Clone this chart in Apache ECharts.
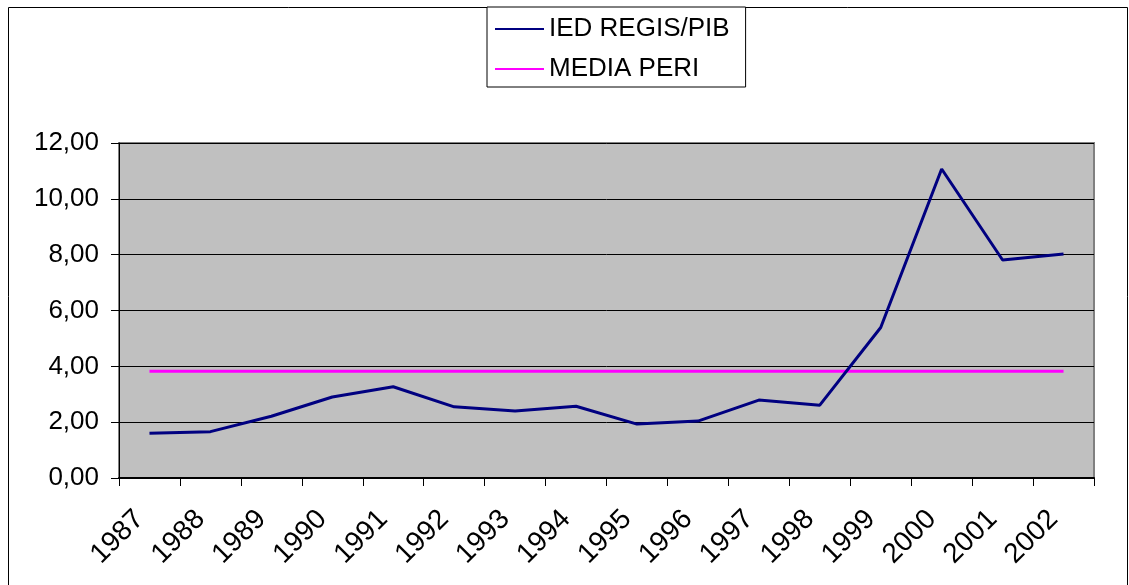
<!DOCTYPE html>
<html>
<head>
<meta charset="utf-8">
<script src="https://cdn.jsdelivr.net/npm/echarts@6/dist/echarts.min.js"></script>
<style>
html,body{margin:0;padding:0;background:#fff;}
#c{width:1129px;height:585px;}
</style>
</head>
<body>
<div id="c"></div>
<script>
const years = ['1987','1988','1989','1990','1991','1992','1993','1994','1995','1996','1997','1998','1999','2000','2001','2002'];
const iedRegisPib = [1.60,1.66,2.21,2.90,3.27,2.55,2.40,2.57,1.93,2.04,2.79,2.61,5.39,11.07,7.81,8.02];
const mediaPeri = [3.82,3.82,3.82,3.82,3.82,3.82,3.82,3.82,3.82,3.82,3.82,3.82,3.82,3.82,3.82,3.82];
const seriesNames = ['IED REGIS/PIB','MEDIA PERI'];

const FONT = '"Liberation Sans", Arial, sans-serif';
const chart = echarts.init(document.getElementById('c'), null, {renderer:'canvas'});
chart.setOption({
  animation:false,
  backgroundColor:'#fff',
  textStyle:{fontFamily:FONT,color:'#000'},
  graphic:[{
    type:'rect', z:-10, silent:true,
    shape:{x:8.5,y:7.5,width:1119,height:620},
    style:{fill:'#fff',stroke:'#000',lineWidth:1}
  }],
  legend:{
    orient:'vertical',
    left:487, top:7,
    padding:[9,16,5,8],
    itemWidth:49, itemHeight:2, itemGap:14,
    itemTextGap:8,
    icon:'rect',
    backgroundColor:'#fff',
    borderColor:'#000', borderWidth:1,
    textStyle:{fontFamily:FONT,fontSize:26,color:'#000'},
    data:seriesNames
  },
  grid:{
    left:119, top:143, right:35, bottom:107,
    show:true, backgroundColor:'#C0C0C0',
    borderColor:'#808080', borderWidth:2,
    containLabel:false
  },
  xAxis:{
    type:'category',
    data:years,
    boundaryGap:true,
    axisLine:{show:true,lineStyle:{color:'#000',width:2}},
    axisTick:{show:true,length:8,lineStyle:{color:'#000',width:1}},
    axisLabel:{rotate:45,margin:27,fontSize:28,fontFamily:FONT,color:'#000',padding:[0,14,0,0],interval:0},
    splitLine:{show:false}
  },
  yAxis:{
    type:'value',
    min:0, max:12, interval:2,
    axisLine:{show:true,lineStyle:{color:'#000',width:1}},
    axisTick:{show:true,length:8,lineStyle:{color:'#000',width:1}},
    axisLabel:{margin:20,fontSize:26,fontFamily:FONT,color:'#000',
      formatter:function(v){return v.toFixed(2).replace('.',',');}},
    splitLine:{show:true,lineStyle:{color:'#000',width:1}}
  },
  series:[
    {name:seriesNames[0],type:'line',data:iedRegisPib,symbol:'none',
      lineStyle:{color:'#000080',width:3},itemStyle:{color:'#000080'},z:3},
    {name:seriesNames[1],type:'line',data:mediaPeri,symbol:'none',
      lineStyle:{color:'#FF00FF',width:3},itemStyle:{color:'#FF00FF'},z:2}
  ]
});
</script>
</body>
</html>
